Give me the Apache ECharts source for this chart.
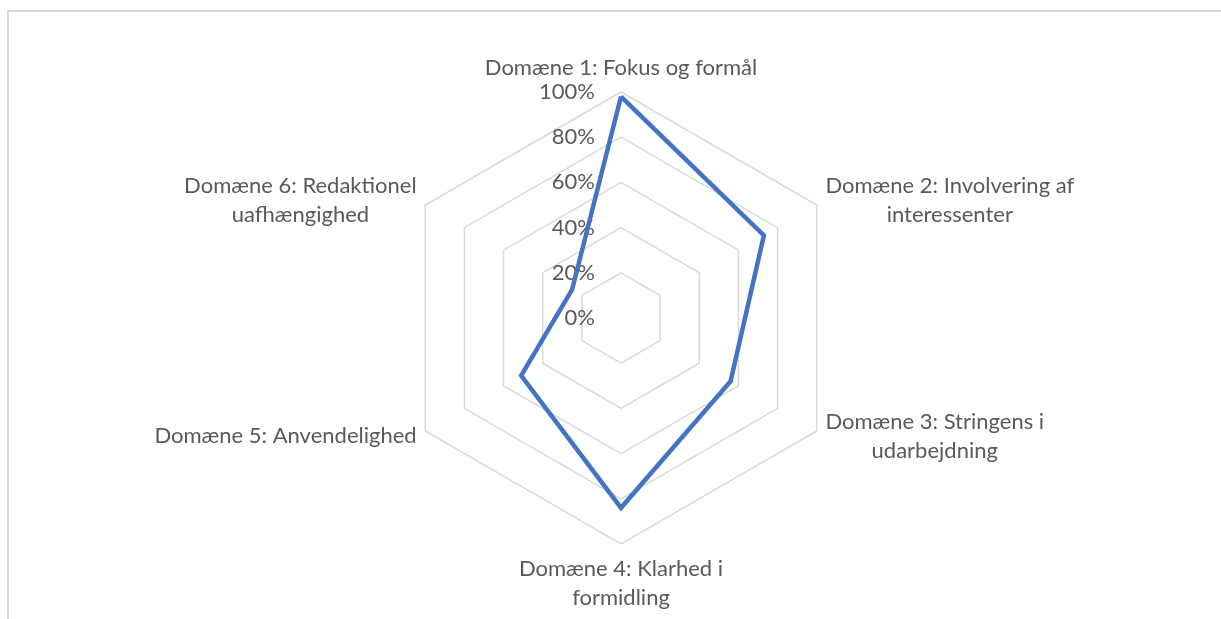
<!DOCTYPE html>
<html>
<head>
<meta charset="utf-8">
<script src="https://cdn.jsdelivr.net/npm/echarts@6/dist/echarts.min.js"></script>
<style>
  html, body { margin: 0; padding: 0; background: #ffffff; overflow: hidden; }
  #frame { position: absolute; left: 7px; top: 10px; width: 1400px; height: 800px; border: 2px solid #d9d9d9; }
  #chart { position: absolute; left: 0; top: 0; width: 1221px; height: 619px; }
</style>
</head>
<body>
<div id="frame"></div>
<div id="chart"></div>
<script>
// Domains in Excel (clockwise) order, starting at the top
const domains = [
  'Domæne 1: Fokus og formål',
  'Domæne 2: Involvering af\ninteressenter',
  'Domæne 3: Stringens i\nudarbejdning',
  'Domæne 4: Klarhed i\nformidling',
  'Domæne 5: Anvendelighed',
  'Domæne 6: Redaktionel\nuafhængighed'
];
const scores = [98, 73, 56, 84, 51, 25];
const axisMin = 0;
const axisMax = 100;
const axisStep = 20;

const FONT = 'Lato, "Open Sans", sans-serif';
const TEXT = '#595959';
const FS = 22;

// ECharts lays indicators out counter-clockwise; reorder so they appear clockwise
const order = [0, 5, 4, 3, 2, 1];
const indicators = order.map(i => ({ name: domains[i], min: axisMin, max: axisMax }));
const values = order.map(i => scores[i]);

const chart = echarts.init(document.getElementById('chart'), null, { renderer: 'canvas' });
chart.setOption({
  animation: false,
  radar: {
    center: [621, 318],
    radius: 226,
    startAngle: 90,
    shape: 'polygon',
    splitNumber: (axisMax - axisMin) / axisStep,
    axisNameGap: 10,
    axisName: {
      color: TEXT,
      fontFamily: FONT,
      fontSize: FS,
      formatter: function (name) {
        return name.split('\n').map(l => '{c|' + l + '}').join('\n');
      },
      rich: {
        c: { align: 'center', color: TEXT, fontFamily: FONT, fontSize: FS, lineHeight: 29 }
      }
    },
    axisLine: { show: false },
    axisTick: { show: false },
    axisLabel: { show: false },
    splitArea: { show: false },
    splitLine: { lineStyle: { color: '#d9d9d9', width: 1.5 } },
    indicator: indicators
  },
  grid: { left: 621, top: 92, height: 226, width: 10, containLabel: false },
  xAxis: { type: 'value', show: false },
  yAxis: {
    type: 'value',
    min: axisMin,
    max: axisMax,
    interval: axisStep,
    axisLine: { show: false },
    axisTick: { show: false },
    splitLine: { show: false },
    axisLabel: {
      margin: 26,
      color: TEXT,
      fontFamily: FONT,
      fontSize: FS,
      formatter: '{value}%'
    }
  },
  series: [{
    type: 'radar',
    symbol: 'none',
    silent: true,
    lineStyle: { color: '#4472C4', width: 4.5, join: 'miter' },
    data: [{ value: values, name: 'Score' }]
  }]
});
</script>
</body>
</html>
